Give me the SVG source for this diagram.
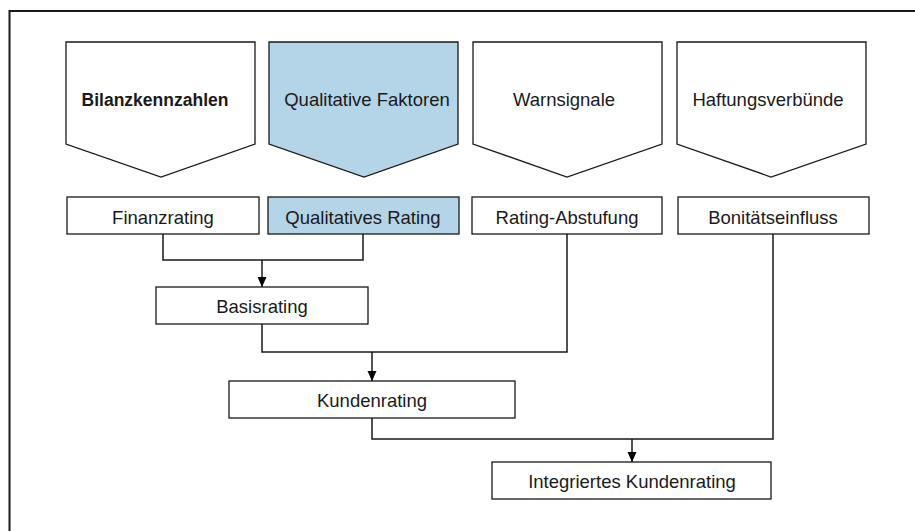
<svg xmlns="http://www.w3.org/2000/svg" width="915" height="531" viewBox="0 0 915 531">
<style>
.shape{fill:#ffffff;stroke:#1a1a1a;stroke-width:1.3}
.blue{fill:#b4d4e8}
.lbl{font-family:"Liberation Sans",Arial,sans-serif;font-size:18.5px;fill:#1a1a1a;text-anchor:middle}
.bold{font-weight:bold;font-size:17.5px}
.conn{fill:none;stroke:#1a1a1a;stroke-width:1.5}
</style>
<defs>
<marker id="arr" markerWidth="12" markerHeight="12" refX="10" refY="5.5" orient="auto" markerUnits="userSpaceOnUse">
<path d="M0,1 L10,5.5 L0,10 Z" fill="#000"/>
</marker>
</defs>
<rect x="9.5" y="11" width="920" height="540" fill="none" stroke="#1a1a1a" stroke-width="2"/>

<g id="connectors">
<polyline class="conn" points="163,234 163,260 363,260 363,234"/>
<line class="conn" x1="262" y1="260" x2="262" y2="287" marker-end="url(#arr)"/>
<polyline class="conn" points="262,324 262,352 567,352 567,234"/>
<line class="conn" x1="372" y1="352" x2="372" y2="381" marker-end="url(#arr)"/>
<polyline class="conn" points="372,418 372,439 773,439 773,234"/>
<line class="conn" x1="632" y1="439" x2="632" y2="462" marker-end="url(#arr)"/>
</g>

<g id="bilanzkennzahlen">
<polygon class="shape" points="66,42 255,42 255,144 161,177 66,144"/>
<text class="lbl bold" x="155" y="106">Bilanzkennzahlen</text>
</g>
<g id="qualitative-faktoren">
<polygon class="shape blue" points="269,42 458,42 458,144 364,177 269,144"/>
<text class="lbl" x="367" y="106">Qualitative Faktoren</text>
</g>
<g id="warnsignale">
<polygon class="shape" points="473,42 662,42 662,144 567,177 473,144"/>
<text class="lbl" x="564" y="106">Warnsignale</text>
</g>
<g id="haftungsverbuende">
<polygon class="shape" points="677,42 866,42 866,144 771,177 677,144"/>
<text class="lbl" x="768" y="106">Haftungsverbünde</text>
</g>

<g id="finanzrating">
<rect class="shape" x="67" y="197" width="192" height="37"/>
<text class="lbl" x="163" y="224">Finanzrating</text>
</g>
<g id="qualitatives-rating">
<rect class="shape blue" x="268" y="197" width="191" height="37"/>
<text class="lbl" x="363" y="224">Qualitatives Rating</text>
</g>
<g id="rating-abstufung">
<rect class="shape" x="472" y="197" width="190" height="37"/>
<text class="lbl" x="567" y="224">Rating-Abstufung</text>
</g>
<g id="bonitaetseinfluss">
<rect class="shape" x="678" y="197" width="191" height="37"/>
<text class="lbl" x="773" y="224">Bonitätseinfluss</text>
</g>

<g id="basisrating">
<rect class="shape" x="156" y="287" width="212" height="37"/>
<text class="lbl" x="262" y="313">Basisrating</text>
</g>
<g id="kundenrating">
<rect class="shape" x="229" y="381" width="286" height="37"/>
<text class="lbl" x="372" y="407">Kundenrating</text>
</g>
<g id="integriertes-kundenrating">
<rect class="shape" x="492" y="462" width="279" height="37"/>
<text class="lbl" x="632" y="488">Integriertes Kundenrating</text>
</g>
</svg>
